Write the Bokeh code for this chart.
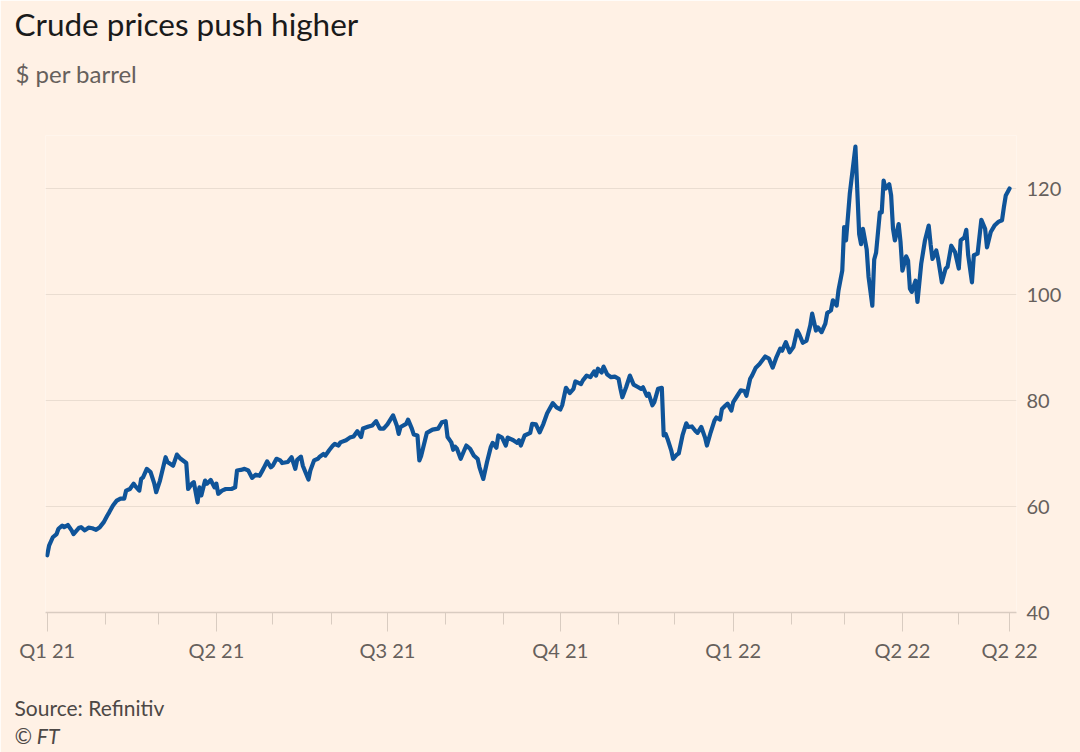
import pandas as pd
from bokeh.plotting import figure
from bokeh.models import Range1d, FixedTicker, Title
from bokeh.embed import file_html
from bokeh.resources import INLINE

# ---- data: days since 2021-01-01 and Brent price ($/barrel) ----
q1_21_days = [0, 1, 3, 5, 6, 8, 9, 11, 13, 14, 17, 18, 20, 22, 24, 26, 28, 30, 32, 33, 35, 37, 39, 41, 42, 44,
              46, 47, 49, 50, 51, 53, 55, 57, 58, 60, 63, 64, 67, 69, 71, 74, 75, 77, 78, 80, 81, 82, 84, 85, 87, 89]
q1_21_prices = [50.8, 52.6, 54.2, 54.8, 55.8, 56.4, 56.1, 56.5, 55.5, 54.8, 56.0, 56.1, 55.5, 56.0, 55.9, 55.6, 56.1, 57.0, 58.3, 58.9, 60.2, 61.1, 61.5, 61.5, 63.0, 63.3,
                64.3, 63.8, 63.0, 65.2, 65.5, 67.1, 66.5, 64.3, 62.7, 64.9, 69.3, 68.4, 67.7, 69.8, 69.0, 68.2, 63.3, 64.3, 64.6, 60.8, 63.6, 62.1, 64.9, 64.3, 65.0, 63.6]

q2_21_days = [90, 91, 93, 95, 98, 100, 101, 103, 105, 107, 109, 111, 113, 115, 117, 119, 120, 122, 124, 125, 128, 130, 132, 133, 135,
              136, 139, 140, 142, 144, 145, 147, 148, 150, 152, 153, 155, 156, 159, 161, 163, 165, 167, 168, 171, 173, 175, 177, 179]
q2_21_prices = [64.3, 62.4, 63.0, 63.3, 63.3, 63.6, 66.8, 66.9, 67.1, 66.8, 65.4, 66.0, 65.8, 67.1, 68.5, 67.4, 67.7, 69.0, 68.7, 68.2, 68.4, 69.3, 67.1, 68.8, 69.4,
                67.7, 65.1, 66.8, 68.7, 69.0, 69.4, 69.9, 69.6, 70.6, 71.5, 71.8, 71.5, 72.1, 72.5, 73.0, 73.2, 74.2, 73.1, 74.7, 75.1, 75.3, 76.1, 74.7, 74.7]

q3_21_days = [181, 184, 186, 187, 188, 191, 192, 194, 195, 197, 198, 199, 202, 205, 208, 210, 212, 213, 215, 216, 217, 218, 220, 222, 223, 225,
              227, 229, 230, 232, 234, 236, 237, 239, 240, 242, 244, 245, 248, 250, 251, 252, 254, 257, 258, 260, 262, 264, 266, 269, 271]
q3_21_prices = [75.5, 77.2, 75.3, 73.7, 75.0, 75.6, 76.4, 74.7, 73.6, 73.4, 68.7, 69.6, 73.9, 74.5, 74.7, 75.9, 76.1, 73.1, 72.1, 70.7, 71.3, 70.9, 69.0, 70.7, 71.5, 70.9,
                69.6, 69.0, 67.4, 65.2, 68.4, 71.2, 72.0, 71.1, 73.4, 73.0, 71.5, 73.0, 72.5, 72.0, 72.5, 71.5, 73.4, 73.9, 75.6, 75.5, 74.0, 75.6, 77.6, 79.5, 78.7]

q4_21_days = [273, 274, 276, 278, 280, 281, 284, 285, 287, 289, 291, 292, 293, 295, 296, 298, 300, 302, 304, 305, 306, 308, 310, 312, 314, 316, 317, 319,
              320, 322, 323, 325, 327, 328, 329, 330, 332, 333, 335, 336, 338, 340, 341, 343, 345, 346, 348, 350, 351, 353, 355, 356, 358, 359, 361, 362, 364]
q4_21_prices = [78.3, 79.1, 82.4, 81.4, 82.2, 83.6, 83.1, 83.8, 84.7, 84.4, 85.5, 84.7, 86.0, 85.3, 86.4, 84.9, 84.4, 84.5, 84.1, 82.2, 80.6, 82.5, 84.7, 83.0, 82.6, 82.2, 82.5, 80.9,
                81.3, 79.1, 79.7, 82.2, 82.4, 73.4, 73.7, 72.8, 70.6, 69.0, 69.8, 70.0, 73.4, 75.7, 75.0, 75.1, 74.2, 73.9, 75.0, 73.0, 71.5, 74.0, 76.2, 76.8, 76.4, 78.4, 79.1, 79.4, 78.1]

q1_22_days = [365, 367, 369, 371, 372, 374, 375, 377, 379, 382, 384, 386, 388, 390, 391, 393, 395, 397, 399, 400, 402, 404, 406, 407, 409, 410, 412, 414,
              415, 417, 418, 420, 421, 423, 424, 425, 427, 430, 431, 432, 433, 434, 436, 437, 439, 440, 441, 443, 444, 445, 446, 448, 449, 450, 451, 453, 454]
q1_22_prices = [79.7, 80.8, 81.9, 81.8, 80.9, 84.1, 84.7, 86.2, 86.9, 88.3, 87.9, 86.2, 88.2, 89.8, 89.4, 91.0, 89.1, 90.1, 93.2, 92.6, 90.9, 91.3, 94.2, 96.4, 93.2, 93.8, 92.9, 94.5,
                96.5, 97.0, 98.9, 97.9, 100.8, 104.5, 112.7, 110.2, 119.0, 127.9, 119.6, 111.4, 109.5, 112.4, 108.5, 103.3, 97.9, 106.6, 107.9, 115.5, 115.5, 121.5, 120.0, 120.8, 118.7, 112.4, 110.2, 113.3, 109.9]

q2_22_days = [455, 457, 458, 459, 460, 462, 463, 465, 467, 469, 470, 471, 473, 474, 476, 478, 479, 481, 483,
              485, 486, 488, 489, 490, 492, 493, 495, 497, 499, 500, 502, 504, 506, 508, 509, 510, 512]
q2_22_prices = [104.5, 107.2, 106.4, 101.1, 100.5, 102.6, 98.6, 105.8, 110.2, 113.0, 109.5, 106.7, 108.3, 106.7, 102.3, 104.9, 105.2, 109.2, 108.0,
                104.9, 110.2, 110.8, 112.2, 107.4, 102.3, 107.4, 107.7, 114.1, 112.4, 108.9, 111.8, 113.0, 113.7, 114.0, 116.5, 118.7, 120.0]

start_date = "2021-01-01"
tick_dates = ["2021-01-01", "2021-04-01", "2021-07-01", "2021-10-01", "2022-01-01", "2022-04-01", "2022-05-28"]
tick_labels = ["Q1 21", "Q2 21", "Q3 21", "Q4 21", "Q1 22", "Q2 22", "Q2 22"]
minor_dates = ["2021-02-01", "2021-03-01", "2021-05-01", "2021-06-01", "2021-08-01", "2021-09-01",
               "2021-11-01", "2021-12-01", "2022-02-01", "2022-03-01", "2022-05-01"]
y_ticks = [40, 60, 80, 100, 120]

title_text = "Crude prices push higher"
subtitle_text = "$ per barrel"
source_text = "Source: Refinitiv"
credit_text = "\u00a9 FT"

# ---- build ----
days = q1_21_days + q2_21_days + q3_21_days + q4_21_days + q1_22_days + q2_22_days
prices = q1_21_prices + q2_21_prices + q3_21_prices + q4_21_prices + q1_22_prices + q2_22_prices
assert len(days) == len(prices), (len(days), len(prices))

t0 = pd.Timestamp(start_date)
dates = t0 + pd.to_timedelta(days, unit="D")


def ms(ts):
    return pd.Timestamp(ts).value / 1e6


BG = "#FFF1E5"
FONT = "Lato"

p = figure(width=1080, height=752, x_axis_type="datetime", y_axis_location="right",
           output_backend="svg", toolbar_location=None,
           background_fill_color=BG, border_fill_color=BG, outline_line_color=None,
           min_border_left=45, min_border_right=64, min_border_top=135, min_border_bottom=140)

p.x_range = Range1d(ms(t0 - pd.Timedelta(days=0.9)), ms(t0 + pd.Timedelta(days=515.7)))
p.y_range = Range1d(40, 130)

p.line(dates, prices, line_color="#0F5499", line_width=4.2, line_join="round", line_cap="round")

# x axis
xa = p.xaxis[0]
xa.ticker = FixedTicker(ticks=[ms(d) for d in tick_dates], minor_ticks=[ms(d) for d in minor_dates])
xa.major_label_overrides = {ms(d): lab for d, lab in zip(tick_dates, tick_labels)}
xa.axis_line_color = "#D9CCC1"
xa.axis_line_width = 1.5
xa.major_tick_line_color = "#D9CCC1"
xa.minor_tick_line_color = "#D9CCC1"
xa.major_tick_in = 0
xa.major_tick_out = 19
xa.minor_tick_in = 0
xa.minor_tick_out = 12
xa.major_label_standoff = 6
xa.major_label_text_font = FONT
xa.major_label_text_font_size = "20px"
xa.major_label_text_color = "#66605C"

# y axis (right)
ya = p.yaxis[0]
ya.ticker = FixedTicker(ticks=y_ticks)
ya.axis_line_color = None
ya.major_tick_line_color = None
ya.minor_tick_line_color = None
ya.major_tick_in = 0
ya.major_tick_out = 0
ya.minor_tick_in = 0
ya.minor_tick_out = 0
ya.major_label_standoff = 10
ya.major_label_text_font = FONT
ya.major_label_text_font_size = "20px"
ya.major_label_text_color = "#66605C"

p.xgrid.grid_line_color = None
p.ygrid.ticker = FixedTicker(ticks=y_ticks[1:])
p.ygrid.grid_line_color = "#EADDD1"
p.ygrid.grid_line_width = 1

# titles (above: spacer, subtitle, title -- stacked outward from the frame)
p.add_layout(Title(text=" ", text_font=FONT, text_font_size="10px", standoff=22), "above")
p.add_layout(Title(text=subtitle_text, text_font=FONT, text_font_size="24px", text_font_style="normal",
                   text_color="#66605C", align="left", offset=-30, standoff=24), "above")
p.add_layout(Title(text=title_text, text_font=FONT, text_font_size="31.5px", text_font_style="normal",
                   text_color="#1A1A1A", align="left", offset=-31, standoff=4), "above")
# below: spacer, source, credit
p.add_layout(Title(text=" ", text_font=FONT, text_font_size="10px", standoff=13), "below")
p.add_layout(Title(text=source_text, text_font=FONT, text_font_size="21px", text_font_style="normal",
                   text_color="#4D4845", align="left", offset=-31, standoff=2), "below")
p.add_layout(Title(text=credit_text, text_font=FONT, text_font_size="21px", text_font_style="italic",
                   text_color="#4D4845", align="left", offset=-31, standoff=0), "below")

open("out.html", "w").write(file_html(p, INLINE))
